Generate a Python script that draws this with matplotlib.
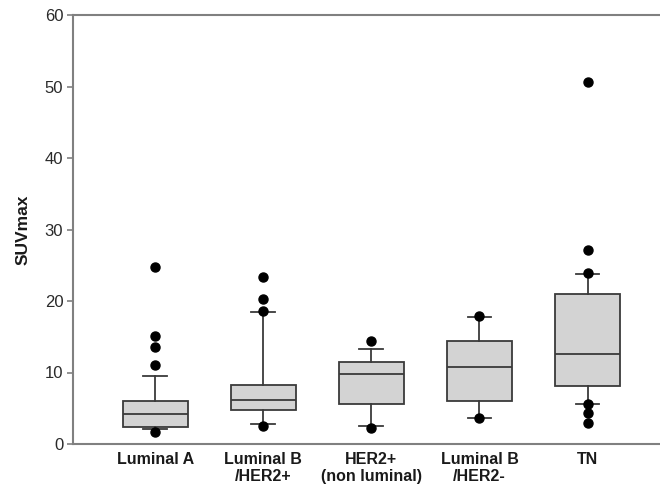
import matplotlib
matplotlib.use("Agg")
import matplotlib.pyplot as plt

plt.rcParams['font.family'] = ['Liberation Sans', 'DejaVu Sans']

categories = ["Luminal A", "Luminal B\n/HER2+", "HER2+\n(non luminal)", "Luminal B\n/HER2-", "TN"]
q1 = [2.4, 4.75, 5.65, 6.05, 8.05]
medians = [4.15, 6.1, 9.75, 10.7, 12.6]
q3 = [6.0, 8.3, 11.5, 14.45, 21.0]
whislo = [2.05, 2.8, 2.5, 3.7, 5.6]
whishi = [9.5, 18.4, 13.3, 17.8, 23.8]
fliers = [
    [24.7, 15.1, 13.5, 11.0, 1.7],
    [23.3, 20.3, 18.55, 2.5],
    [14.4, 2.2],
    [17.95, 3.6],
    [50.6, 27.1, 23.9, 5.6, 4.3, 3.0],
]
yticks = [0, 10, 20, 30, 40, 50, 60]

stats = []
for i, lab in enumerate(categories):
    stats.append(dict(label=lab, q1=q1[i], med=medians[i], q3=q3[i],
                      whislo=whislo[i], whishi=whishi[i], fliers=fliers[i]))

fig = plt.figure(figsize=(6.6, 4.88), dpi=100)
ax = fig.add_axes([73/660, 1-444/488, 1-73/660, 429/488])

edge = '#3a3a3a'
ax.bxp(stats, positions=range(1, 6), widths=0.6, patch_artist=True,
       boxprops=dict(facecolor='#d3d3d3', edgecolor=edge, linewidth=1.3),
       medianprops=dict(color=edge, linewidth=1.3),
       whiskerprops=dict(color=edge, linewidth=1.3),
       capprops=dict(color=edge, linewidth=1.3),
       capwidths=0.22,
       flierprops=dict(marker='o', markerfacecolor='black', markeredgecolor='black', markersize=6.5))

ax.set_xlim(0.24, 5.67)
ax.set_ylim(0, 60)
ax.set_yticks(yticks)
ax.set_yticklabels([str(t) for t in yticks], fontsize=12, color='#2a2a2a')
ax.set_xticklabels(categories, fontsize=11.5, fontweight='bold', color='#1a1a1a', linespacing=1.15)
ax.tick_params(axis='x', length=0, pad=6)
ax.tick_params(axis='y', length=4, width=1.2, color='#808080', direction='out', pad=3)
ax.set_ylabel("SUVmax", fontsize=12.5, fontweight='bold', labelpad=10, color='#1a1a1a')

for s in ['left', 'top', 'bottom']:
    ax.spines[s].set_color('#808080')
    ax.spines[s].set_linewidth(1.5)
ax.spines['right'].set_visible(False)

fig.savefig("out.png", dpi=100)
